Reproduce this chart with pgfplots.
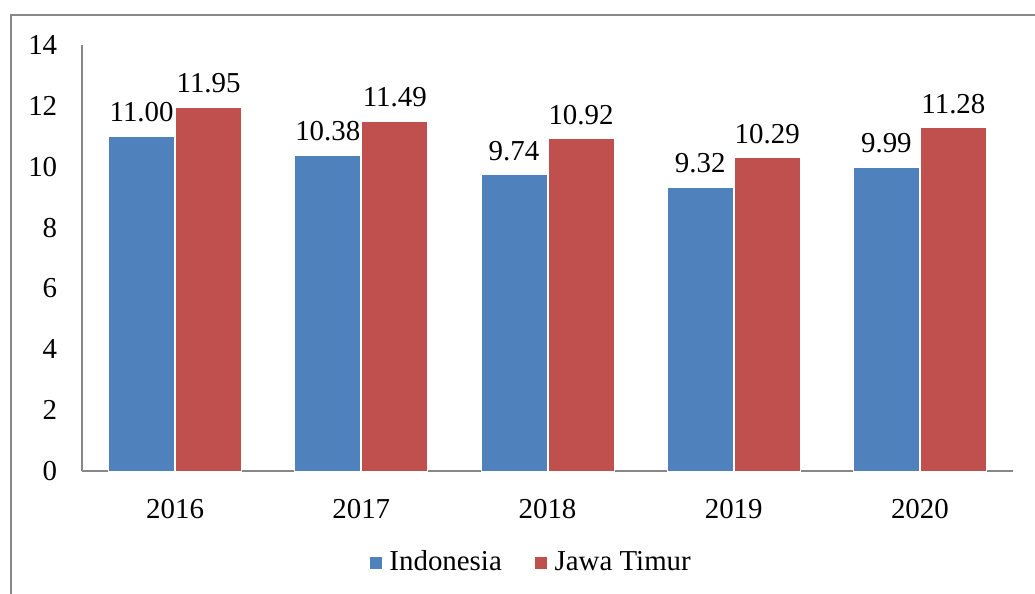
\documentclass[border=0pt]{standalone}
\usepackage{fontspec}
\setmainfont{Liberation Serif}
\usepackage{pgfplots}
\pgfplotsset{compat=1.18}
\definecolor{cblue}{HTML}{4F81BD}
\definecolor{cred}{HTML}{C0504D}
\definecolor{cgray}{HTML}{878787}
\newcommand{\fs}{\fontsize{29}{35}\selectfont}
\begin{document}
\begin{tikzpicture}
\fs
\path[use as bounding box] (0,0) rectangle (1035bp,594bp);
\draw[cgray,line width=1.5bp] (11bp,0) -- (11bp,579bp) -- (1035bp,579bp);
\begin{axis}[
  at={(82bp,123bp)}, anchor=south west,
  scale only axis, width=931bp, height=426bp,
  xmin=-0.5, xmax=4.5, ymin=0, ymax=14,
  enlargelimits=false, clip=false,
  axis x line*=bottom, axis y line*=left,
  axis line style={cgray, line width=1.2bp, -},
  xtick={0,1,2,3,4}, xticklabels={2016,2017,2018,2019,2020},
  ytick={0,2,...,14},
  major tick length=0pt,
  /pgf/number format/assume math mode=true,
  tick label style={font=\fs},
  yticklabel style={xshift=-15bp},
  xticklabel style={yshift=-18bp},
  ybar=1bp, bar width=66bp,
  nodes near coords,
  every node near coord/.append style={font=\fs, yshift=4bp,
    /pgf/number format/fixed, /pgf/number format/fixed zerofill, /pgf/number format/precision=2},
  legend style={draw=none, fill=none, at={(0.482,-0.216)}, anchor=center, legend columns=2,
    font=\fs, /tikz/every even column/.append style={column sep=30bp}},
  legend image code/.code={\fill[#1] (0bp,-6.5bp) rectangle (13bp,6.5bp); \path (18bp,0bp);},
  legend cell align=left,
]
\addplot[fill=cblue, draw=white, line width=0.8bp] coordinates {(0,11.00) (1,10.38) (2,9.74) (3,9.32) (4,9.99)};
\addplot[fill=cred, draw=white, line width=0.8bp] coordinates {(0,11.95) (1,11.49) (2,10.92) (3,10.29) (4,11.28)};
\legend{Indonesia, Jawa Timur}
\end{axis}
\end{tikzpicture}
\end{document}
